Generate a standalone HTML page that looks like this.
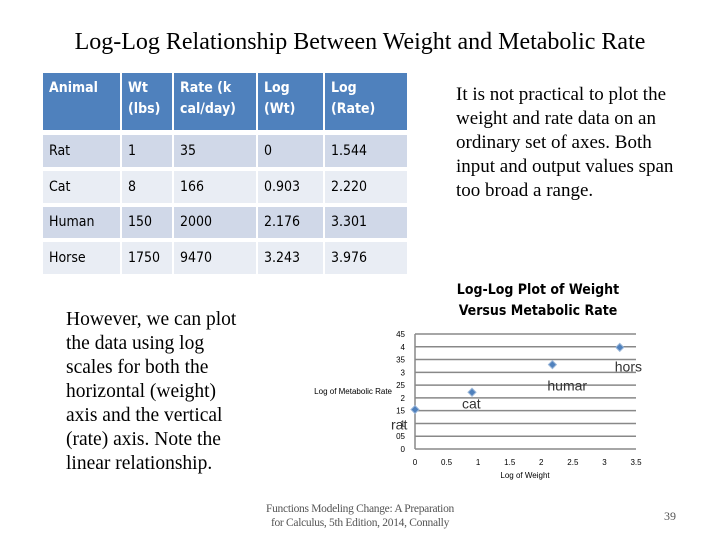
<!DOCTYPE html>
<html><head><meta charset="utf-8"><style>
body{margin:0;width:720px;height:540px;background:#fff;position:relative;overflow:hidden;font-family:"Liberation Serif",serif}
.abs{position:absolute}
.cell{position:absolute;font-family:"DejaVu Sans Condensed","Liberation Sans",sans-serif;font-size:14px;color:#000;padding:5px 0 0 6px;box-sizing:border-box;line-height:21px}
.h{background:#4f81bd;color:#fff;font-weight:bold;padding-top:5px}
.r1{background:#d0d8e8}.r2{background:#e9edf4}
.ser{font-family:"Liberation Serif",serif;font-size:19px;line-height:24px;white-space:nowrap}
</style></head><body>
<div class="abs" style="left:0;width:720px;top:29px;text-align:center;font-size:24px;white-space:nowrap">Log-Log Relationship Between Weight and Metabolic Rate</div>
<div id="tbl"></div>
<div class="abs ser" style="left:456px;top:83px">It is not practical to plot the<br>weight and rate data on an<br>ordinary set of axes. Both<br>input and output values span<br>too broad a range.</div>
<div class="abs ser" style="left:66px;top:308px;font-size:19.5px">However, we can plot<br>the data using log<br>scales for both the<br>horizontal (weight)<br>axis and the vertical<br>(rate) axis. Note the<br>linear relationship.</div>
<svg class="abs" style="left:0;top:0" width="720" height="540" id="chart"></svg>
<div class="abs" style="left:240px;top:502px;width:240px;text-align:center;font-size:11.5px;letter-spacing:-0.3px;color:#555;line-height:14px">Functions Modeling Change: A Preparation<br>for Calculus, 5th Edition, 2014, Connally</div>
<div class="abs" style="left:664px;top:509px;font-size:12px;color:#555">39</div>
<script>
const head=["Animal","Wt<br>(lbs)","Rate (k<br>cal/day)","Log<br>(Wt)","Log<br>(Rate)"];
const rows=[["Rat","1","35","0","1.544"],["Cat","8","166","0.903","2.220"],["Human","150","2000","2.176","3.301"],["Horse","1750","9470","3.243","3.976"]];
const cx=[43,122,174,258,325],cw=[77,50,82,65,82];
const ry=[[73,57],[135,32],[171,32],[207,31],[242,32]];
const tbl=document.getElementById('tbl');
[head,...rows].forEach((r,i)=>r.forEach((t,j)=>{
  const d=document.createElement('div');
  d.className='cell '+(i==0?'h':(i%2?'r1':'r2'));
  
  
  d.style.cssText=`left:${cx[j]}px;top:${ry[i][0]}px;width:${cw[j]}px;height:${ry[i][1]}px;`+(i>0?`padding-top:${(ry[i][1]-21)/2}px`:'');
  d.innerHTML=t;tbl.appendChild(d);
}));
const labels=["rat","cat","humar","hors"];
const logW=[0,0.903,2.176,3.243];
const logR=[1.544,2.220,3.301,3.976];
const yTicks=["0","05","1","15","2","25","3","35","4","45"];
const xTicks=["0","0.5","1","1.5","2","2.5","3","3.5"];
const X=v=>415+v*(636-415)/3.5, Y=v=>449-v*(449-334)/4.5;
const svg=document.getElementById('chart');let s='';
s+=`<text x="538" y="294" text-anchor="middle" font-family="DejaVu Sans Condensed,Liberation Sans,sans-serif" font-weight="bold" font-size="14">Log-Log Plot of Weight</text>`;
s+=`<text x="538" y="315" text-anchor="middle" font-family="DejaVu Sans Condensed,Liberation Sans,sans-serif" font-weight="bold" font-size="14">Versus Metabolic Rate</text>`;
yTicks.forEach((t,i)=>{const y=Y(i*0.5);
 s+=`<line x1="${X(0)}" x2="${X(3.5)}" y1="${y}" y2="${y}" stroke="#888" stroke-width="1.5"/>`;
 s+=`<text x="${X(0)-10}" y="${y+3}" text-anchor="end" font-family="Liberation Sans,sans-serif" font-size="8">${t}</text>`;});
s+=`<line x1="${X(0)}" x2="${X(0)}" y1="${Y(4.5)}" y2="${Y(0)}" stroke="#888" stroke-width="1.5"/>`;
xTicks.forEach((t,i)=>{s+=`<text x="${X(i*0.5)}" y="465" text-anchor="middle" font-family="Liberation Sans,sans-serif" font-size="8">${t}</text>`;});
s+=`<text x="525" y="478" text-anchor="middle" font-family="Liberation Sans,sans-serif" font-size="8">Log of Weight</text>`;
s+=`<text x="392" y="394" text-anchor="end" font-family="Liberation Sans,sans-serif" font-size="8">Log of Metabolic Rate</text>`;
const dx=[-24,-10,-5,-5],dy=[20,16,26,24];
logW.forEach((w,i)=>{const x=X(w),y=Y(logR[i]);
 s+=`<path d="M${x} ${y-4}L${x+4} ${y}L${x} ${y+4}L${x-4} ${y}Z" fill="#4f81bd" stroke="#9bb7d9"/>`;
 s+=`<text x="${x+dx[i]}" y="${y+dy[i]}" font-family="Liberation Sans,sans-serif" font-size="14" fill="#333">${labels[i]}</text>`;});
svg.innerHTML=s;
</script>
</body></html>
